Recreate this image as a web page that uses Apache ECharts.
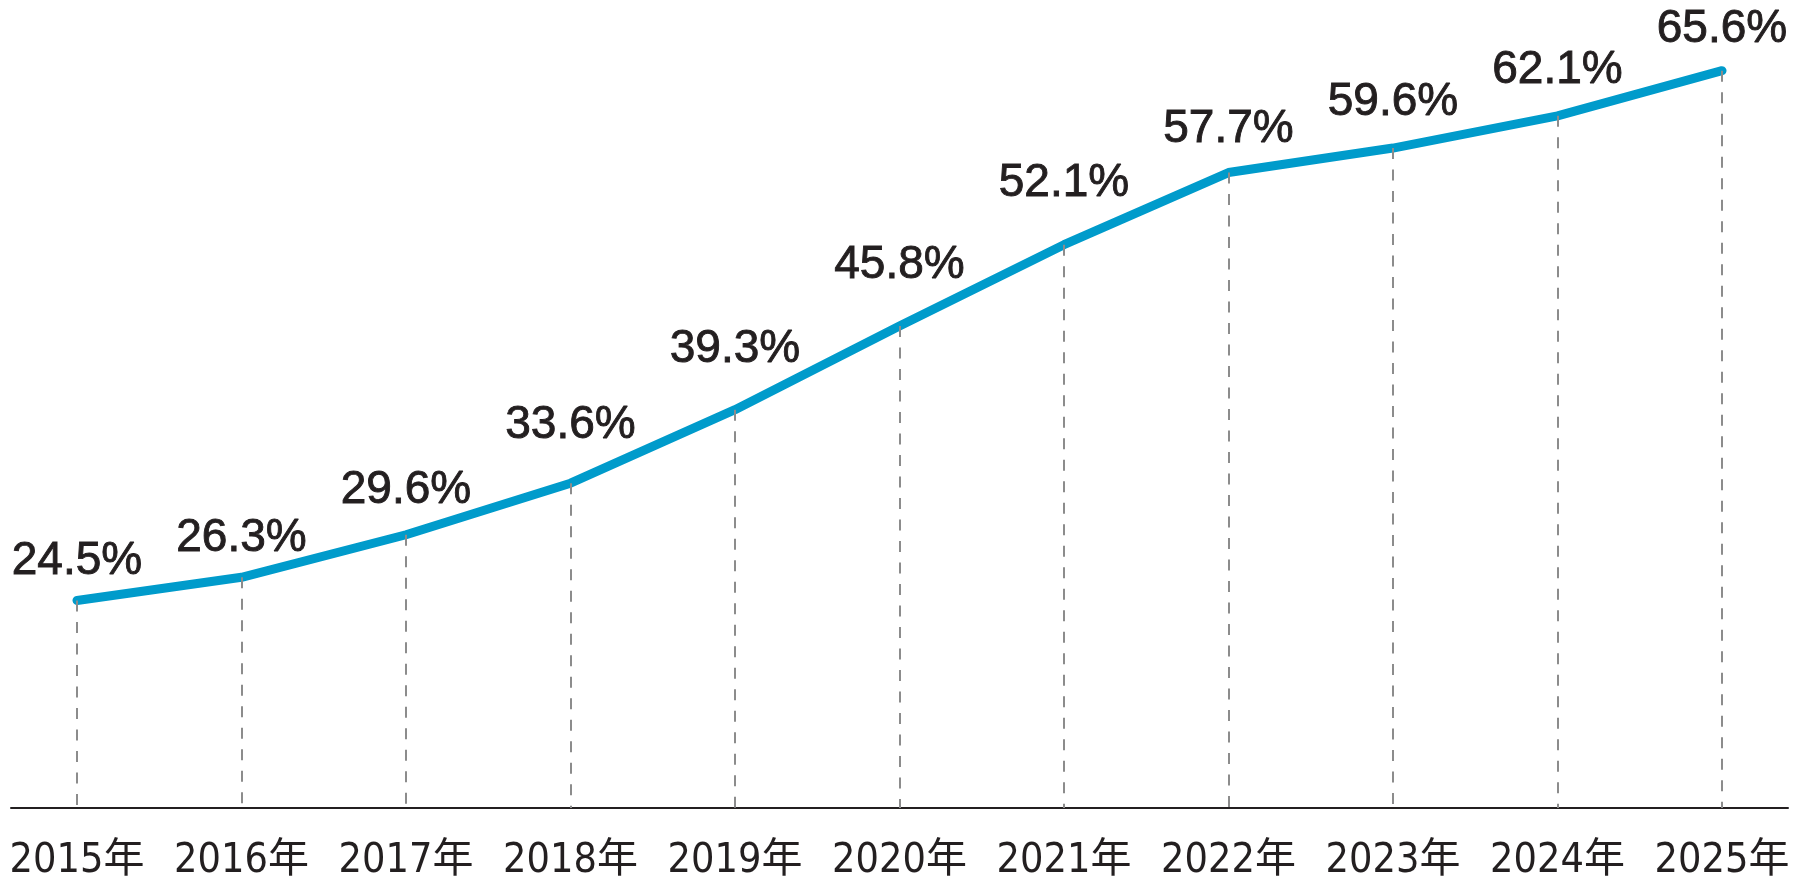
<!DOCTYPE html>
<html>
<head>
<meta charset="utf-8">
<script src="https://cdn.jsdelivr.net/npm/echarts@6/dist/echarts.min.js"></script>
<style>
html,body{margin:0;padding:0;background:#fff;}
#chart{width:1800px;height:890px;}
</style>
</head>
<body>
<div id="chart"></div>
<script>
const categories = ['2015年','2016年','2017年','2018年','2019年','2020年','2021年','2022年','2023年','2024年','2025年'];
const values = [24.5, 26.3, 29.6, 33.6, 39.3, 45.8, 52.1, 57.7, 59.6, 62.1, 65.6];
const yMin = 8.4;
const yMax = 70;
// label distance above each point (style only)
const labelDistance = [16, 15, 21, 34, 37, 37, 38, 20, 22, 22, 18];

const chart = echarts.init(document.getElementById('chart'));
const dropLines = categories.map((c, i) => [
  { coord: [c, values[i]] },
  { coord: [c, yMin] }
]);
const lineData = values.map((v, i) => ({ value: v, label: { distance: labelDistance[i] } }));

chart.setOption({
  animation: false,
  backgroundColor: '#ffffff',
  grid: [
    { left: 77, right: 78, top: 14, bottom: 82 },
    { left: 11, right: 12, top: 14, bottom: 82 }
  ],
  xAxis: [
    {
      type: 'category', gridIndex: 0, data: categories, boundaryGap: false,
      axisLine: { show: false },
      axisTick: { show: false },
      axisLabel: {
        interval: 0, margin: 33, color: '#231f20', fontSize: 41,
        fontFamily: '"Liberation Sans Narrow", "DejaVu Sans Condensed", "Noto Sans CJK JP", sans-serif'
      },
      splitLine: { show: false }
    },
    {
      type: 'value', gridIndex: 1, min: 0, max: 1,
      axisLine: { show: true, lineStyle: { color: '#231f20', width: 2 } },
      axisTick: { show: false }, axisLabel: { show: false }, splitLine: { show: false }
    }
  ],
  yAxis: [
    { type: 'value', gridIndex: 0, min: yMin, max: yMax, show: false },
    { type: 'value', gridIndex: 1, min: 0, max: 1, show: false }
  ],
  series: [
    {
      type: 'line', xAxisIndex: 0, yAxisIndex: 0, data: [], z: 1, silent: true,
      markLine: {
        silent: true, symbol: 'none', animation: false,
        label: { show: false },
        lineStyle: { color: '#8c8c8c', width: 2, type: [11, 10.5] },
        data: dropLines
      }
    },
    {
      type: 'line', xAxisIndex: 0, yAxisIndex: 0, data: lineData, z: 3,
      showSymbol: true, symbol: 'circle', symbolSize: 1,
      itemStyle: { color: '#009bcb' },
      lineStyle: { color: '#009bcb', width: 9, cap: 'round', join: 'round' },
      label: {
        show: true, position: 'top', distance: 16,
        formatter: p => p.value.toFixed(1) + '%',
        color: '#231f20', fontSize: 46,
        fontFamily: '"Liberation Sans", Arial, sans-serif',
        textBorderColor: '#231f20', textBorderWidth: 0.9
      }
    }
  ]
});
</script>
</body>
</html>
